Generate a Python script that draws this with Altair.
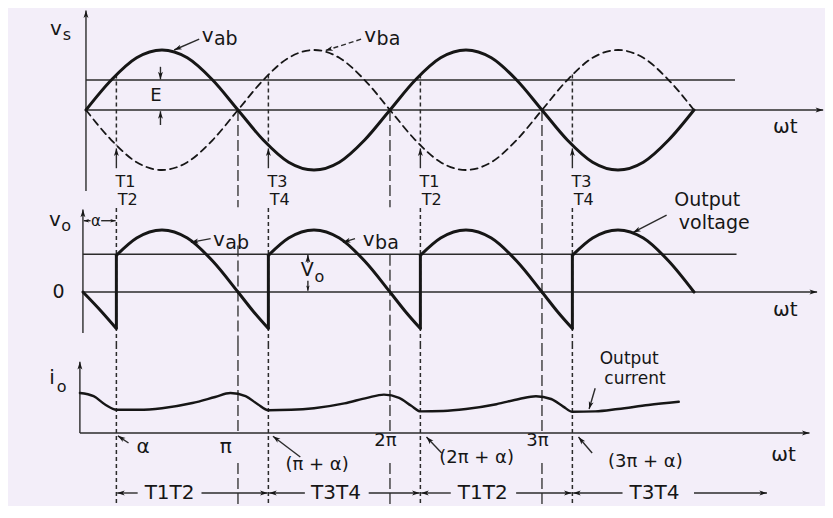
import math
import altair as alt
import pandas as pd

# ---------------- layout constants ----------------
W = 817
T_DOMAIN = [-0.513, 4.862]          # x axis in multiples of pi
PX_PER_T = W / (T_DOMAIN[1] - T_DOMAIN[0])
BG = "#f3eef9"
INK = "#161616"
THIN = "#2b2b2b"
FONT = "DejaVu Sans"
ARROW = "M0,0L-0.55,1.7L0,1.25L0.55,1.7Z"

# ---------------- data (angles in multiples of pi) ----------------
T_GRID = [0, 1/6, 2/6, 3/6, 4/6, 5/6, 1, 7/6, 8/6, 9/6, 10/6, 11/6, 2,
          13/6, 14/6, 15/6, 16/6, 17/6, 3, 19/6, 20/6, 21/6, 22/6, 23/6, 4]
V_AB = [0, .5, .87, 1, .87, .5, 0, -.5, -.87, -1, -.87, -.5, 0,
        .5, .87, 1, .87, .5, 0, -.5, -.87, -1, -.87, -.5, 0]
V_BA = [0, -.5, -.87, -1, -.87, -.5, 0, .5, .87, 1, .87, .5, 0,
        -.5, -.87, -1, -.87, -.5, 0, .5, .87, 1, .87, .5, 0]

ALPHA_LINES = [0.2, 1.2, 2.2, 3.2]   # alpha, pi+alpha, 2pi+alpha, 3pi+alpha
PI_LINES = [1, 2, 3]
E_LEVEL = 0.5
VO_LEVEL = 0.61
V_FIRE = 0.59                        # |v| at the firing instant

VO_T = [-0.02, 0.1, 0.2,
        0.2, 1/3, 0.5, 2/3, 5/6, 1, 1.1, 1.2,
        1.2, 4/3, 1.5, 5/3, 11/6, 2, 2.1, 2.2,
        2.2, 7/3, 2.5, 8/3, 17/6, 3, 3.1, 3.2,
        3.2, 10/3, 3.5, 11/3, 23/6, 4]
VO_V = [0, -0.31, -0.59,
        0.59, .87, 1, .87, .5, 0, -.31, -.59,
        0.59, .87, 1, .87, .5, 0, -.31, -.59,
        0.59, .87, 1, .87, .5, 0, -.31, -.59,
        0.59, .87, 1, .87, .5, 0]
VO_SEG = [0] * 3 + [1] * 8 + [2] * 8 + [3] * 8 + [4] * 6

IO_T = [-0.04, 0.05, 0.13, 0.2, 0.35, 0.5, 0.7, 0.85, 0.95, 1.05, 1.13, 1.2,
        1.35, 1.5, 1.7, 1.85, 1.96, 2.06, 2.14, 2.2, 2.35, 2.5, 2.7, 2.85,
        2.96, 3.06, 3.14, 3.2, 3.35, 3.5, 3.7, 3.9]
IO_V = [1.0, 0.92, 0.7, 0.58, 0.58, 0.62, 0.75, 0.9, 1.0, 0.92, 0.72, 0.57,
        0.58, 0.62, 0.74, 0.88, 0.96, 0.88, 0.68, 0.54, 0.55, 0.6, 0.72, 0.85,
        0.92, 0.85, 0.66, 0.53, 0.54, 0.6, 0.7, 0.78]

# ---------------- panel geometry ----------------
TOP = dict(h=200, dom=[-1.633, 1.7])
MID = dict(h=137, dom=[-0.855, 1.355])
BOT = dict(h=160, dom=[-1.8, 2.2])
for p in (TOP, MID, BOT):
    p["ppu"] = p["h"] / (p["dom"][1] - p["dom"][0])


def X(f="t"):
    return alt.X(f"{f}:Q", scale=alt.Scale(domain=T_DOMAIN, nice=False, zero=False), axis=None)


def Y(dom, f="v"):
    return alt.Y(f"{f}:Q", scale=alt.Scale(domain=dom, nice=False, zero=False), axis=None)


def rules(rows, p, **mk):
    df = pd.DataFrame(rows, columns=["t", "v", "t2", "v2"])
    style = dict(color=THIN, strokeWidth=1.4)
    style.update(mk)
    return alt.Chart(df).mark_rule(**style).encode(
        x=X(), x2=alt.X2("t2"), y=Y(p["dom"]), y2=alt.Y2("v2"))


def heads(rows, p, size=80):
    recs = []
    for (t, v, t2, v2) in rows:
        dx = (t2 - t) * PX_PER_T
        dy = -(v2 - v) * p["ppu"]
        ang = math.degrees(math.atan2(dx, -dy)) % 360
        recs.append({"t": t2, "v": v2, "angle": ang})
    return alt.Chart(pd.DataFrame(recs)).mark_point(
        shape=ARROW, filled=True, opacity=1, color=INK, size=size, strokeWidth=0
    ).encode(x=X(), y=Y(p["dom"]), angle=alt.Angle("angle:Q", scale=None))


def texts(rows, p, align="center"):
    df = pd.DataFrame(rows, columns=["text", "t", "v", "size"])
    return alt.Chart(df).mark_text(font=FONT, color=INK, align=align, baseline="middle").encode(
        x=X(), y=Y(p["dom"]), text="text:N", size=alt.Size("size:Q", scale=None))


def line(ts, vs, segs, p, **mk):
    df = pd.DataFrame({"t": ts, "v": vs, "seg": segs})
    style = dict(color=INK, strokeWidth=3, interpolate="monotone", strokeCap="round", strokeJoin="round")
    style.update(mk)
    return alt.Chart(df).mark_line(**style).encode(x=X(), y=Y(p["dom"]), detail="seg:N")


# ---------------- top panel: supply voltage ----------------
p = TOP
top_plain = [(0, -1.35, 0, 1.66), (0, 0, 4.85, 0), (0, E_LEVEL, 4.27, E_LEVEL)]
top_arrows = [(0, -1.35, 0, 1.66), (0, 0, 4.85, 0),
              (0.49, 0.72, 0.49, 0.51), (0.49, -0.25, 0.49, -0.02),
              (0.745, 1.18, 0.58, 1.0)] + [(a, -0.97, a, -0.64) for a in ALPHA_LINES]
top_solid_ptr = [r for r in top_arrows[2:]]
top_dash_ptr = [(1.81, 1.18, 1.575, 0.99)]
top_alpha = [(a, V_FIRE, a, -V_FIRE) for a in ALPHA_LINES]
top_pi = [(k, 0, k, -1.62) for k in PI_LINES]
top_text = [("v", -0.197, 1.35, 20), ("s", -0.125, 1.25, 16),
            ("v", 0.8, 1.233, 20), ("ab", 0.92, 1.18, 19),
            ("v", 1.87, 1.233, 20), ("ba", 1.99, 1.18, 19),
            ("E", 0.46, 0.233, 18), ("ωt", 4.6, -0.28, 20)]
for a, (u, l) in zip(ALPHA_LINES, [("T1", "T2"), ("T3", "T4"), ("T1", "T2"), ("T3", "T4")]):
    top_text += [(u, a + 0.06, -1.2, 16), (l, a + 0.075, -1.5, 16)]

top = alt.layer(
    rules(top_plain, p),
    rules(top_solid_ptr, p),
    rules(top_dash_ptr, p, strokeDash=[5, 3]),
    rules(top_alpha, p, strokeDash=[4, 3], strokeWidth=1.5),
    rules(top_pi, p, strokeDash=[11, 4], strokeWidth=1.3),
    line(T_GRID, V_BA, [0] * len(T_GRID), p, strokeWidth=1.8, strokeDash=[7, 5]),
    line(T_GRID, V_AB, [0] * len(T_GRID), p),
    heads(top_arrows + top_dash_ptr, p),
    texts(top_text, p),
).properties(width=W, height=p["h"])

# ---------------- middle panel: output voltage ----------------
p = MID
mid_plain = [(-0.02, -0.66, -0.02, 1.33), (-0.02, 0, 4.81, 0), (-0.02, VO_LEVEL, 4.28, VO_LEVEL)]
mid_ptr = [(0.82, 0.86, 0.69, 0.8), (1.77, 0.86, 1.69, 0.8),
           (1.46, 0.47, 1.46, 0.6), (1.46, 0.18, 1.46, 0.02),
           (0.03, 1.15, -0.015, 1.15), (0.1, 1.15, 0.195, 1.15),
           (3.82, 1.24, 3.6, 0.96)]
mid_axis_heads = [(-0.02, -0.66, -0.02, 1.33), (-0.02, 0, 4.81, 0)]
mid_alpha = [(a, MID["dom"][1], a, MID["dom"][0]) for a in ALPHA_LINES]
mid_pi = [(1, 0.75, 1, MID["dom"][0]), (2, 0.6, 2, MID["dom"][0]), (3, MID["dom"][1], 3, MID["dom"][0])]
mid_jumps = [(a, -V_FIRE, a, V_FIRE) for a in ALPHA_LINES]
mid_text = [("v", -0.204, 1.16, 20), ("o", -0.13, 1.065, 16), ("α", 0.065, 1.15, 15),
            ("0", -0.18, 0, 19),
            ("v", 0.875, 0.84, 20), ("ab", 0.995, 0.79, 19),
            ("v", 1.86, 0.84, 20), ("ba", 1.98, 0.79, 19),
            ("V", 1.455, 0.355, 19), ("o", 1.535, 0.24, 16),
            ("ωt", 4.6, -0.29, 20)]
mid_text_left = [("Output", 3.87, 1.48, 19), ("voltage", 3.9, 1.12, 19)]

mid = alt.layer(
    rules(mid_plain, p),
    rules(mid_ptr, p),
    rules(mid_alpha, p, strokeDash=[4, 3], strokeWidth=1.5),
    rules(mid_pi, p, strokeDash=[11, 4], strokeWidth=1.3),
    rules(mid_jumps, p, color=INK, strokeWidth=3),
    line(VO_T, VO_V, VO_SEG, p),
    heads(mid_axis_heads + mid_ptr[:3] + mid_ptr[6:], p),
    heads(mid_ptr[3:6], p, size=40),
    texts(mid_text, p),
    texts(mid_text_left, p, align="left"),
).properties(width=W, height=p["h"])

# ---------------- bottom panel: output current ----------------
p = BOT
bot_plain = [(-0.04, 0, -0.04, 1.78), (-0.04, 0, 4.76, 0)]
bot_ptr = [(0.28, -0.25, 0.21, -0.07), (1.41, -0.6, 1.23, -0.08),
           (2.34, -0.5, 2.24, -0.1), (3.33, -0.5, 3.24, -0.1),
           (3.35, 1.12, 3.31, 0.6)]
BAR_V = -1.5
bar_text = [("T1T2", 0.55), ("T3T4", 1.645), ("T1T2", 2.61), ("T3T4", 3.74)]
bar_left = [(0.34, BAR_V, 0.205, BAR_V), (1.44, BAR_V, 1.205, BAR_V),
            (2.4, BAR_V, 2.205, BAR_V), (3.53, BAR_V, 3.205, BAR_V)]
bar_right = [(0.76, BAR_V, 1.195, BAR_V), (1.86, BAR_V, 2.195, BAR_V),
             (2.83, BAR_V, 3.195, BAR_V), (4.0, BAR_V, 4.48, BAR_V)]
bot_alpha = [(a, BOT["dom"][1], a, BOT["dom"][0]) for a in ALPHA_LINES]
bot_pi = [(k, BOT["dom"][1], k, 0) for k in PI_LINES] + [(k, -0.75, k, BOT["dom"][0]) for k in PI_LINES]
bot_text = [("i", -0.224, 1.375, 20), ("o", -0.16, 1.15, 16),
            ("α", 0.375, -0.35, 20), ("π", 0.92, -0.35, 20),
            ("(π + α)", 1.52, -0.8, 18), ("2π", 1.97, -0.2, 18),
            ("(2π + α)", 2.57, -0.63, 18), ("3π", 2.97, -0.2, 18),
            ("(3π + α)", 3.68, -0.72, 18), ("ωt", 4.59, -0.55, 20)]
bot_text += [(s, t, BAR_V, 20) for s, t in bar_text]
bot_text_left = [("Output", 3.38, 1.84, 17), ("current", 3.41, 1.36, 17)]

bot = alt.layer(
    rules(bot_plain, p),
    rules(bot_ptr, p),
    rules(bar_left + bar_right, p),
    rules(bot_alpha, p, strokeDash=[4, 3], strokeWidth=1.5),
    rules(bot_pi, p, strokeDash=[11, 4], strokeWidth=1.3),
    line(IO_T, IO_V, [0] * len(IO_T), p, strokeWidth=2.4),
    heads(bot_plain + bot_ptr + bar_left + bar_right, p),
    texts(bot_text, p),
    texts(bot_text_left, p, align="left"),
).properties(width=W, height=p["h"])

chart = alt.vconcat(top, mid, bot, spacing=0, bounds="flush").properties(
    padding=0, background=BG
).configure_view(strokeWidth=0)

chart.save("out.html", embed_options={"renderer": "svg", "actions": False})
